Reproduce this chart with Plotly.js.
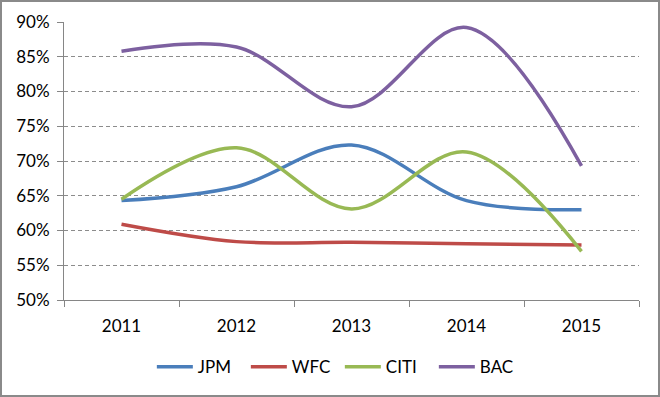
<!DOCTYPE html>
<html>
<head>
<meta charset="utf-8">
<script src="https://cdn.plot.ly/plotly-3.0.1.min.js"></script>
<style>
  html, body { margin: 0; padding: 0; background: #fff; }
  #wrap { width: 660px; height: 397px; box-sizing: border-box; border: 2px solid #8a8a8a; }
  #chart { width: 656px; height: 393px; }
</style>
</head>
<body>
<div id="wrap"><div id="chart"></div></div>
<script>
const years = ['2011', '2012', '2013', '2014', '2015'];
const JPM  = [0.643, 0.663, 0.723, 0.643, 0.630];
const WFC  = [0.609, 0.584, 0.583, 0.581, 0.579];
const CITI = [0.645, 0.719, 0.631, 0.713, 0.570];
const BAC  = [0.858, 0.864, 0.778, 0.892, 0.693];
const yTicks = [0.5, 0.55, 0.6, 0.65, 0.7, 0.75, 0.8, 0.85, 0.9];

const series = [
  {name: 'JPM',  y: JPM,  color: '#4a7ebb'},
  {name: 'WFC',  y: WFC,  color: '#be4b48'},
  {name: 'CITI', y: CITI, color: '#98b954'},
  {name: 'BAC',  y: BAC,  color: '#7d60a0'}
];

const traces = series.map(s => ({
  type: 'scatter', mode: 'lines', name: s.name,
  x: years, y: s.y,
  line: {color: s.color, width: 3.5, shape: 'spline', smoothing: 1}
}));

const fam = 'Lato, Carlito, Calibri, sans-serif';

const layout = {
  width: 656, height: 393,
  margin: {l: 62, r: 19, t: 20, b: 95},
  paper_bgcolor: '#fff', plot_bgcolor: '#fff',
  font: {family: fam, size: 17, color: '#000'},
  showlegend: true,
  legend: {orientation: 'h', x: 0.515, xanchor: 'center', xref: 'container',
           y: 0.071, yanchor: 'middle', yref: 'container',
           itemwidth: 36, entrywidth: 43, entrywidthmode: 'pixels',
           font: {family: fam, size: 17, color: '#000'}},
  xaxis: {
    type: 'category', range: [-0.5, 4.5], automargin: false,
    showline: true, linecolor: '#868686', linewidth: 1,
    ticks: 'outside', tickson: 'boundaries', ticklen: 6, tickcolor: '#868686',
    ticklabelstandoff: 11,
    showgrid: false, zeroline: false,
    tickfont: {family: fam, size: 17, color: '#000'}
  },
  yaxis: {
    range: [0.5, 0.9], tickvals: yTicks, tickformat: '.0%', automargin: false,
    showline: true, linecolor: '#868686', linewidth: 1,
    ticks: 'outside', ticklen: 6, tickcolor: '#868686',
    ticklabelstandoff: 4,
    showgrid: true, gridcolor: '#8c8c8c', griddash: '4px,3px', gridwidth: 1,
    zeroline: false,
    tickfont: {family: fam, size: 17, color: '#000'}
  }
};

Plotly.newPlot('chart', traces, layout, {displayModeBar: false, staticPlot: true});
</script>
</body>
</html>
